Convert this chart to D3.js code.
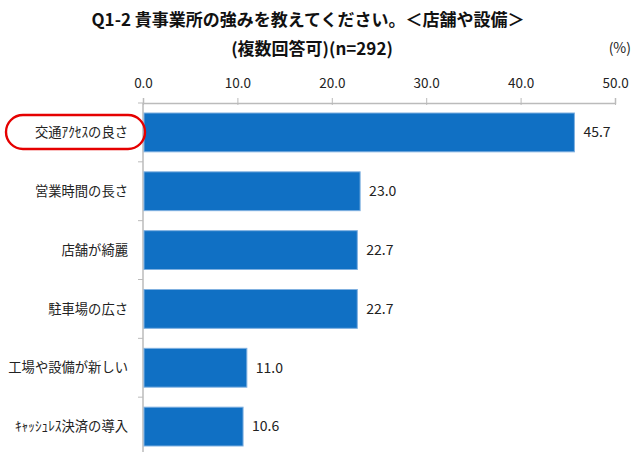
<!DOCTYPE html>
<html><head><meta charset="utf-8">
<script src="https://cdn.jsdelivr.net/npm/d3@7"></script>
<style>body{margin:0;background:#fff}text{font-family:"Noto Sans CJK JP","Noto Sans",sans-serif}</style>
</head><body>
<svg id="c" width="633" height="452"></svg>
<script>
const categories = ["交通ｱｸｾｽの良さ","営業時間の長さ","店舗が綺麗","駐車場の広さ","工場や設備が新しい","ｷｬｯｼｭﾚｽ決済の導入"];
const values = [45.7, 23.0, 22.7, 22.7, 11.0, 10.6];
const tickValues = [0,10,20,30,40,50];
const titleLines = ["Q1-2 貴事業所の強みを教えてください。＜店舗や設備＞","(複数回答可)(n=292)"];
const unitLabel = "(%)";

(function(){
const svg = d3.select("#c");
const mL = 143, mR = 615, mT = 103, mB = 456;
const x = d3.scaleLinear().domain([0,50]).range([mL,mR]);
const y = d3.scaleBand().domain(categories).range([mT,mB]).paddingInner(0.34).paddingOuter(0.17);

svg.append("text").attr("x",308).attr("y",26).attr("text-anchor","middle").attr("font-size",17).attr("font-weight","bold").attr("fill","#111").text(titleLines[0]);
svg.append("text").attr("x",312).attr("y",55).attr("text-anchor","middle").attr("font-size",17).attr("font-weight","bold").attr("fill","#111").text(titleLines[1]);
svg.append("text").attr("x",631).attr("y",53).attr("text-anchor","end").attr("font-size",14).attr("fill","#222").text(unitLabel);

const xa = svg.append("g").attr("transform",`translate(0,${mT})`)
  .call(d3.axisTop(x).tickValues(tickValues).tickFormat(d3.format(".1f")).tickSize(5).tickPadding(10));
xa.select(".domain").attr("stroke","#bbb").attr("stroke-width",1.5);
xa.selectAll(".tick line").attr("stroke","#bbb").attr("y2",-5).attr("y1",2);
xa.selectAll(".tick text").attr("font-size",13.5).attr("fill","#222").attr("font-family","'Noto Sans','DejaVu Sans',sans-serif");

const step = y.step();
svg.append("line").attr("x1",mL).attr("x2",mL).attr("y1",mT).attr("y2",mB).attr("stroke","#bbb").attr("stroke-width",1.5);
d3.range(categories.length+1).forEach(i=>{
  const yb = mT + step*i;
  svg.append("line").attr("x1",mL-5).attr("x2",mL).attr("y1",yb).attr("y2",yb).attr("stroke","#bbb");
});

svg.selectAll("rect.bar").data(values).join("rect").attr("class","bar")
  .attr("x",x(0)+1).attr("y",(d,i)=>y(categories[i]))
  .attr("width",d=>x(d)-x(0)-1).attr("height",y.bandwidth())
  .attr("fill","#1070c4").attr("stroke","#7fb0e0").attr("stroke-width",1);

svg.selectAll("text.val").data(values).join("text").attr("class","val")
  .attr("x",d=>x(d)+9).attr("y",(d,i)=>y(categories[i])+y.bandwidth()/2).attr("dy","0.35em")
  .attr("font-size",14).attr("fill","#222").attr("font-family","'Noto Sans','DejaVu Sans',sans-serif")
  .text(d=>d.toFixed(1));

svg.selectAll("text.cat").data(categories).join("text").attr("class","cat")
  .attr("x",128).attr("y",d=>y(d)+y.bandwidth()/2).attr("dy","0.35em").attr("text-anchor","end")
  .attr("font-size",13.3).attr("fill","#222").text(d=>d);

svg.append("rect").attr("x",6).attr("y",y(categories[0])+2).attr("width",139).attr("height",34).attr("rx",17)
  .attr("fill","none").attr("stroke","#e50000").attr("stroke-width",2.4);
})();
</script>
</body></html>
